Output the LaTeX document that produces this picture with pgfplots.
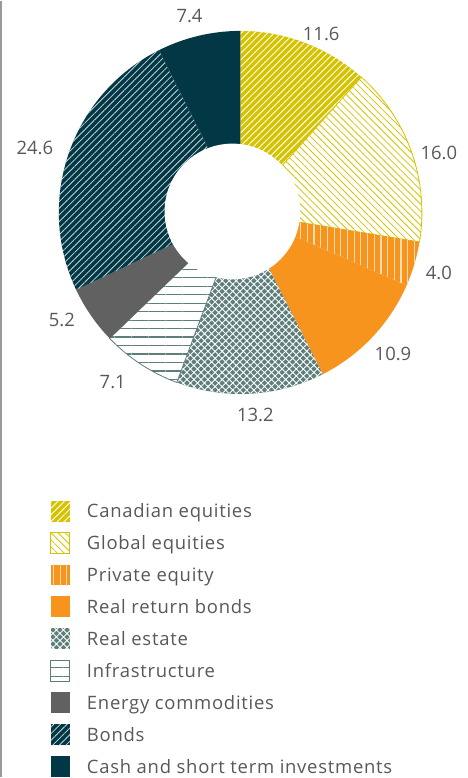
\documentclass[border=0pt]{standalone}
\usepackage{fontspec}
\setmainfont{Open Sans}
\newfontfamily\legfont[LetterSpace=4]{Open Sans}
\usepackage{pgfplots}
\pgfplotsset{compat=1.18}
\usepackage{pgfplotstable}
\usetikzlibrary{patterns.meta}

\definecolor{cyel}{HTML}{D5C300}
\definecolor{corg}{HTML}{F7941E}
\definecolor{corgl}{HTML}{FDDCB3}
\definecolor{cre}{HTML}{5E7E7B}
\definecolor{cgray}{HTML}{616161}
\definecolor{cteal}{HTML}{023845}
\definecolor{ctealL}{HTML}{C9D6D9}
\definecolor{ctext}{HTML}{585858}
\definecolor{cframe}{HTML}{9A9A9A}

% asset mix (%), clockwise from 12 o'clock, with label positions (pt, y up)
\pgfplotstableread[col sep=comma]{
name,value,lx,ly
Canadian equities,11.6,322,745
Global equities,16.0,440,626
Private equity,4.0,440,505
Real return bonds,10.9,394,424
Real estate,13.2,256,363
Infrastructure,7.1,113,396
Energy commodities,5.2,62,458
Bonds,24.6,35,631
Cash and short term investments,7.4,190,763
}\sharetable

\gdef\cum{0}
\pgfplotsforeachungrouped \i in {0,...,8}{%
  \pgfplotstablegetelem{\i}{value}\of\sharetable
  \pgfmathsetmacro\sa{90-3.6*\cum}%
  \pgfmathsetmacro\newcum{\cum+\pgfplotsretval}%
  \pgfmathsetmacro\ea{90-3.6*\newcum}%
  \expandafter\xdef\csname sa\i\endcsname{\sa}%
  \expandafter\xdef\csname ea\i\endcsname{\ea}%
  \expandafter\xdef\csname val\i\endcsname{\pgfplotsretval}%
  \pgfplotstablegetelem{\i}{lx}\of\sharetable
  \expandafter\xdef\csname lx\i\endcsname{\pgfplotsretval}%
  \pgfplotstablegetelem{\i}{ly}\of\sharetable
  \expandafter\xdef\csname ly\i\endcsname{\pgfplotsretval}%
  \pgfplotstablegetelem{\i}{name}\of\sharetable
  \expandafter\xdef\csname nm\i\endcsname{\pgfplotsretval}%
  \xdef\cum{\newcum}%
}

\tikzset{
 s0/.style={fill=cyel, postaction={pattern={Lines[angle=45,distance=4.7pt,line width=0.9pt]}, pattern color=white}},
 s1/.style={fill=white, postaction={pattern={Lines[angle=-45,distance=5pt,line width=0.8pt]}, pattern color=cyel}, postaction={draw=cyel, line width=0.8pt}},
 s2/.style={fill=corg, postaction={pattern={Lines[angle=90,distance=6.7pt,line width=1.2pt]}, pattern color=corgl}},
 s3/.style={fill=corg},
 s4/.style={fill=cre, postaction={pattern={Hatch[angle=45,distance=5pt,line width=0.9pt]}, pattern color=white}},
 s5/.style={fill=white, postaction={pattern={Lines[angle=0,distance=8.5pt,line width=1.3pt]}, pattern color=cre}, postaction={draw=cre, line width=0.8pt}},
 s6/.style={fill=cgray},
 s7/.style={fill=cteal, postaction={pattern={Lines[angle=45,distance=4.7pt,line width=0.8pt]}, pattern color=ctealL}},
 s8/.style={fill=cteal},
}

\begin{document}
\begin{tikzpicture}
\begin{axis}[x=1pt, y=1pt, xmin=0, xmax=469, ymin=0, ymax=778,
  axis lines=none, clip=false, scale only axis]
\path (axis cs:0,0) rectangle (axis cs:469,778);
% frame line on the left
\draw[cframe, line width=2pt] (axis cs:1.5,0) -- (axis cs:1.5,778);
% donut slices
\pgfplotsinvokeforeach{0,...,8}{
  \path[s#1] (axis cs:241,566) -- ++(\csname sa#1\endcsname:182pt)
     arc[start angle=\csname sa#1\endcsname, end angle=\csname ea#1\endcsname, radius=182pt] -- cycle;
}
\fill[white] (axis cs:233,567) circle[radius=68pt];
% value labels
\pgfplotsinvokeforeach{0,...,8}{
  \node[text=ctext, font=\fontsize{18.5}{21}\selectfont, inner sep=0pt]
     at (axis cs:\csname lx#1\endcsname,\csname ly#1\endcsname) {\csname val#1\endcsname};
}
% legend
\pgfplotsinvokeforeach{0,...,8}{
  \path[s#1] (axis cs:51,{256-32*#1}) rectangle (axis cs:70,{277-32*#1});
  \node[text=ctext, font=\legfont\fontsize{18.5}{21}\selectfont, anchor=base west, inner sep=0pt]
     at (axis cs:87,{260-32*#1}) {\csname nm#1\endcsname};
}
\end{axis}
\end{tikzpicture}
\end{document}
